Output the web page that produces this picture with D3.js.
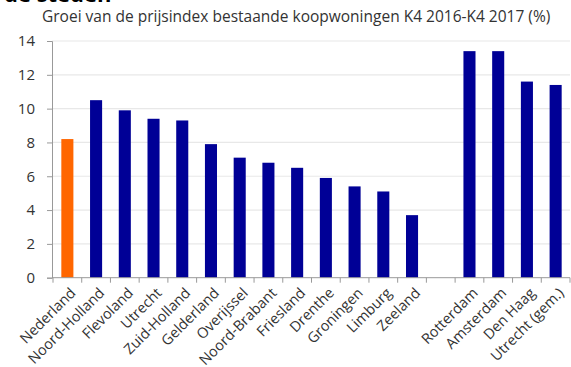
<!DOCTYPE html>
<html>
<head>
<meta charset="utf-8">
<script src="https://cdn.jsdelivr.net/npm/d3@7"></script>
<style>
  body { margin: 0; background: #fff; }
  svg { display: block; font-family: "Open Sans", sans-serif; }
</style>
</head>
<body>
<div id="chart"></div>
<script>
// data
const provinces = ["Nederland", "Noord-Holland", "Flevoland", "Utrecht", "Zuid-Holland", "Gelderland",
  "Overijssel", "Noord-Brabant", "Friesland", "Drenthe", "Groningen", "Limburg", "Zeeland"]
const provinceValues = [8.2, 10.5, 9.9, 9.4, 9.3, 7.9, 7.1, 6.8, 6.5, 5.9, 5.4, 5.1, 3.7]
const cities = ["Rotterdam", "Amsterdam", "Den Haag", "Utrecht (gem.)"]
const cityValues = [13.4, 13.4, 11.6, 11.4]
const yTicks = [0, 2, 4, 6, 8, 10, 12, 14]

const width = 571
const height = 367
const margin = { top: 41, right: 1, bottom: 90, left: 52 }

const rows = provinces.map((p, i) => ({ name: p, value: provinceValues[i] }))
  .concat(cities.map((c, i) => ({ name: c, value: cityValues[i] })))

// empty slot between provinces and the big cities
const domain = [...provinces, "__gap", ...cities]

const svg = d3.select("#chart").append("svg")
  .attr("width", width)
  .attr("height", height)

const x = d3.scaleBand().domain(domain)
  .range([margin.left + 1, width - margin.right])
  .paddingInner(0.58).paddingOuter(0.29)
const y = d3.scaleLinear().domain([0, 14]).range([height - margin.bottom + 0.7, margin.top])

// cut off heading from the article above the chart
svg.append("text")
  .attr("x", 4).attr("y", 1.5)
  .style("font-size", "22px").style("font-weight", "bold")
  .attr("fill", "#000")
  .text("de steden")

svg.append("text")
  .attr("x", 42).attr("y", 22)
  .style("font-size", "15.5px")
  .attr("fill", "#333")
  .text("Groei van de prijsindex bestaande koopwoningen K4 2016-K4 2017 (%)")

// gridlines
svg.append("g").selectAll("line")
  .data(yTicks.slice(1))
  .join("line")
  .attr("x1", margin.left).attr("x2", width - margin.right)
  .attr("y1", d => y(d)).attr("y2", d => y(d))
  .attr("stroke", "#e8e8e8")
  .attr("stroke-width", 1.2)

// y axis
const yAxis = svg.append("g")
  .attr("transform", `translate(${margin.left},0)`)
  .call(d3.axisLeft(y).tickValues(yTicks).tickSize(5).tickPadding(12))
yAxis.select(".domain").attr("stroke", "#999")
yAxis.selectAll(".tick line").attr("stroke", "#999")
yAxis.selectAll(".tick text").attr("fill", "#333").style("font-size", "15px")
  .style("font-family", "'Open Sans', sans-serif")

// bars
svg.append("g").selectAll("rect")
  .data(rows)
  .join("rect")
  .attr("x", d => x(d.name))
  .attr("width", x.bandwidth())
  .attr("y", d => y(d.value))
  .attr("height", d => y(0) - y(d.value))
  .attr("fill", d => d.name === "Nederland" ? "#ff6600" : "#000096")

// x axis with tick marks between the bands
const step = x.step()
const edges = d3.range(domain.length + 1).map(i => margin.left + 1 + i * step)
svg.append("line")
  .attr("x1", margin.left).attr("x2", width - margin.right)
  .attr("y1", y(0)).attr("y2", y(0))
  .attr("stroke", "#999")
svg.append("g").selectAll("line")
  .data(edges)
  .join("line")
  .attr("x1", d => d).attr("x2", d => d)
  .attr("y1", y(0)).attr("y2", y(0) + 5)
  .attr("stroke", "#999")

svg.append("g").selectAll("text")
  .data(rows)
  .join("text")
  .attr("transform", d => `translate(${x(d.name) + x.bandwidth() / 2 + 3},${y(0) + 10}) rotate(-45)`)
  .attr("text-anchor", "end")
  .attr("dy", "0.6em")
  .attr("fill", "#333")
  .style("font-size", "14.5px")
  .text(d => d.name)
</script>
</body>
</html>
